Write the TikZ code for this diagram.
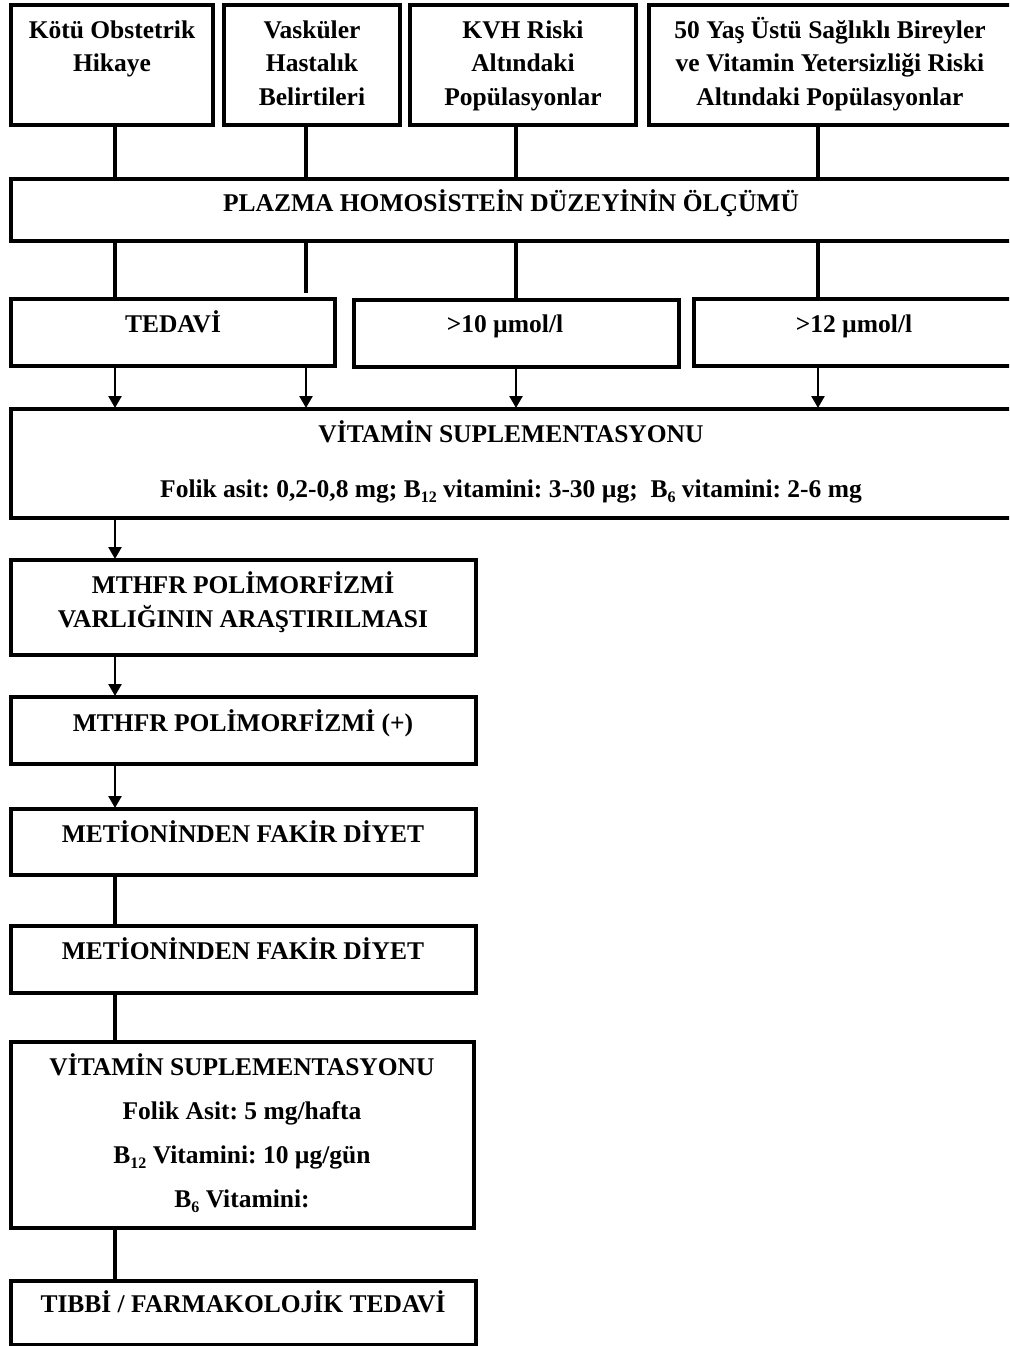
\documentclass[tikz,border=0pt]{standalone}
\usepackage{fontspec}
\setmainfont{Liberation Serif}
\usetikzlibrary{arrows.meta}
% lowered small figures for vitamin indices
\newcommand\vsub[1]{\raisebox{-0.22em}{\fontsize{16}{16}\selectfont #1}}
\frenchspacing
\begin{document}
\begin{tikzpicture}[x=1pt,y=-1pt,
  box/.style={draw, line width=3.5pt, inner sep=0pt, outer sep=0pt, anchor=north west},
  lbl/.style={font=\bfseries\fontsize{25.5}{33.5}\selectfont, align=center, inner sep=0pt, anchor=base},
  link/.style={line width=4pt},
  arr/.style={line width=2.5pt, -{Triangle[width=13pt,length=12pt]}, shorten >=1pt}]
\clip (0,0) rectangle (1009,1346);
\fill[white] (0,0) rectangle (1009,1346);

% column positions of the vertical connectors
\coordinate (xa) at (115,0);
\coordinate (xb) at (306,0);
\coordinate (xc) at (516,0);
\coordinate (xd) at (818,0);

% boxes
\node[box, minimum width=202pt, minimum height=120pt] (b1) at (11,5) {};
\node[box, minimum width=176pt, minimum height=120pt] (b2) at (224,5) {};
\node[box, minimum width=226pt, minimum height=120pt] (b3) at (410,5) {};
\node[box, minimum width=363pt, minimum height=120pt] (b4) at (649,5) {};
\node[box, minimum width=1001pt, minimum height=62pt] (plasma) at (11,179) {};
\node[box, minimum width=324pt, minimum height=67pt] (tedavi) at (11,299) {};
\node[box, minimum width=325pt, minimum height=67pt] (g10) at (354,300) {};
\node[box, minimum width=318pt, minimum height=67pt] (g12) at (694,299) {};
\node[box, minimum width=1001pt, minimum height=109pt] (vit1) at (11,409) {};
\node[box, minimum width=465pt, minimum height=95pt] (mth1) at (11,560) {};
\node[box, minimum width=465pt, minimum height=67pt] (mth2) at (11,697) {};
\node[box, minimum width=465pt, minimum height=66pt] (met1) at (11,809) {};
\node[box, minimum width=465pt, minimum height=67pt] (met2) at (11,926) {};
\node[box, minimum width=463pt, minimum height=186pt] (vit2) at (11,1042) {};
\node[box, minimum width=465pt, minimum height=64pt] (tibbi) at (11,1281) {};

% box texts (anchored at the baseline of their last line)
\node[lbl] (t1) at (112,71.5) {Kötü Obstetrik\\Hikaye};
\node[lbl] (t2) at (312,105) {Vasküler\\Hastalık\\Belirtileri};
\node[lbl] (t3) at (523,105) {KVH Riski\\Altındaki\\Popülasyonlar};
\node[lbl] (t4) at (830,105) {50 Yaş Üstü Sağlıklı Bireyler\\ve Vitamin Yetersizliği Riski\\Altındaki Popülasyonlar};
\node[lbl] (tp) at (511,211) {PLAZMA HOMOSİSTEİN DÜZEYİNİN ÖLÇÜMÜ};
\node[lbl] (tt) at (173,332) {TEDAVİ};
\node[lbl] (t10) at (505,332) {>10 µmol/l};
\node[lbl] (t12) at (854,332) {>12 µmol/l};
\node[lbl, font=\bfseries\fontsize{25.5}{55}\selectfont] (tv1) at (511,497)
  {VİTAMİN SUPLEMENTASYONU\\Folik asit: 0,2-0,8 mg; B\vsub{12} vitamini: 3-30 µg;\ \ B\vsub{6} vitamini: 2-6 mg};
\node[lbl, font=\bfseries\fontsize{25.5}{34}\selectfont] (tm1) at (243,627) {MTHFR POLİMORFİZMİ\\VARLIĞININ ARAŞTIRILMASI};
\node[lbl] (tm2) at (243,731) {MTHFR POLİMORFİZMİ (+)};
\node[lbl] (te1) at (243,842) {METİONİNDEN FAKİR DİYET};
\node[lbl] (te2) at (243,959) {METİONİNDEN FAKİR DİYET};
\node[lbl, font=\bfseries\fontsize{25.5}{44}\selectfont] (tv2) at (242,1207)
  {VİTAMİN SUPLEMENTASYONU\\Folik Asit: 5 mg/hafta\\B\vsub{12} Vitamini: 10 µg/gün\\B\vsub{6} Vitamini:};
\node[lbl] (tb) at (243,1312) {TIBBİ / FARMAKOLOJİK TEDAVİ};

% top boxes into the plasma measurement
\draw[link] (b1.south -| xa) -- (plasma.north -| xa);
\draw[link] (b2.south -| xb) -- (plasma.north -| xb);
\draw[link] (b3.south -| xc) -- (plasma.north -| xc);
\draw[link] (b4.south -| xd) -- (plasma.north -| xd);

% plasma measurement to the result boxes
\draw[link] (plasma.south -| xa) -- (tedavi.north -| xa);
\draw[link, shorten >=6pt] (plasma.south -| xb) -- (tedavi.north -| xb);
\draw[link] (plasma.south -| xc) -- (g10.north -| xc);
\draw[link] (plasma.south -| xd) -- (g12.north -| xd);

% results to vitamin supplementation
\draw[arr] (tedavi.south -| xa) -- (vit1.north -| xa);
\draw[arr] (tedavi.south -| xb) -- (vit1.north -| xb);
\draw[arr] (g10.south -| xc) -- (vit1.north -| xc);
\draw[arr] (g12.south -| xd) -- (vit1.north -| xd);

% left column
\draw[arr] (vit1.south -| xa) -- (mth1.north -| xa);
\draw[arr] (mth1.south -| xa) -- (mth2.north -| xa);
\draw[arr] (mth2.south -| xa) -- (met1.north -| xa);
\draw[link] (met1.south -| xa) -- (met2.north -| xa);
\draw[link] (met2.south -| xa) -- (vit2.north -| xa);
\draw[link] (vit2.south -| xa) -- (tibbi.north -| xa);
\end{tikzpicture}
\end{document}
